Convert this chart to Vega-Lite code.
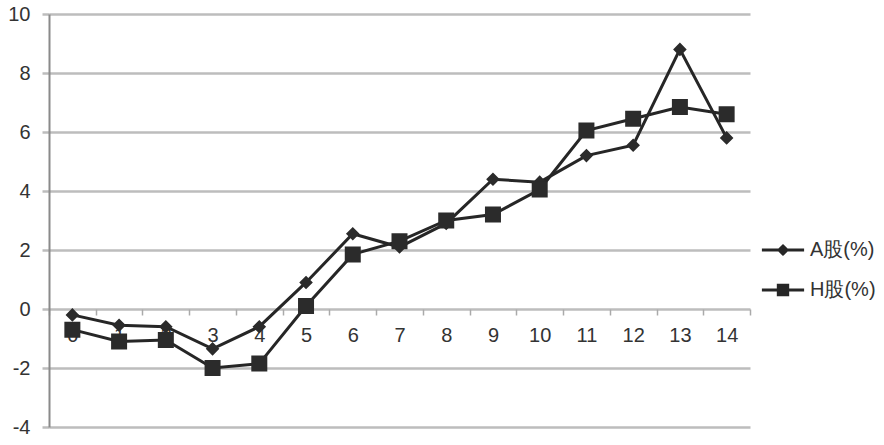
{
  "$schema": "https://vega.github.io/schema/vega-lite/v6.json",
  "width": 701,
  "height": 413,
  "autosize": {"type": "none"},
  "padding": {"left": 49, "top": 14, "right": 134, "bottom": 18},
  "background": "white",
  "config": {"view": {"stroke": null}, "font": "Liberation Sans"},
  "data": {
    "values": [
      {"x": 0, "series": "A股(%)", "value": -0.2},
      {"x": 1, "series": "A股(%)", "value": -0.55},
      {"x": 2, "series": "A股(%)", "value": -0.6},
      {"x": 3, "series": "A股(%)", "value": -1.35},
      {"x": 4, "series": "A股(%)", "value": -0.6},
      {"x": 5, "series": "A股(%)", "value": 0.9},
      {"x": 6, "series": "A股(%)", "value": 2.55},
      {"x": 7, "series": "A股(%)", "value": 2.1},
      {"x": 8, "series": "A股(%)", "value": 2.9},
      {"x": 9, "series": "A股(%)", "value": 4.4},
      {"x": 10, "series": "A股(%)", "value": 4.3},
      {"x": 11, "series": "A股(%)", "value": 5.2},
      {"x": 12, "series": "A股(%)", "value": 5.55},
      {"x": 13, "series": "A股(%)", "value": 8.8},
      {"x": 14, "series": "A股(%)", "value": 5.8},
      {"x": 0, "series": "H股(%)", "value": -0.7},
      {"x": 1, "series": "H股(%)", "value": -1.1},
      {"x": 2, "series": "H股(%)", "value": -1.05},
      {"x": 3, "series": "H股(%)", "value": -2.0},
      {"x": 4, "series": "H股(%)", "value": -1.85},
      {"x": 5, "series": "H股(%)", "value": 0.1},
      {"x": 6, "series": "H股(%)", "value": 1.85},
      {"x": 7, "series": "H股(%)", "value": 2.3},
      {"x": 8, "series": "H股(%)", "value": 3.0},
      {"x": 9, "series": "H股(%)", "value": 3.2},
      {"x": 10, "series": "H股(%)", "value": 4.05},
      {"x": 11, "series": "H股(%)", "value": 6.05},
      {"x": 12, "series": "H股(%)", "value": 6.45},
      {"x": 13, "series": "H股(%)", "value": 6.85},
      {"x": 14, "series": "H股(%)", "value": 6.6}
    ]
  },
  "encoding": {
    "x": {
      "field": "x",
      "type": "ordinal",
      "scale": {"type": "band", "paddingInner": 0, "paddingOuter": 0},
      "axis": {
        "title": null,
        "orient": "bottom",
        "offset": -118,
        "tickBand": "extent",
        "ticks": true,
        "tickSize": 6,
        "tickWidth": 1.5,
        "tickColor": "#aaaaaa",
        "domain": false,
        "grid": false,
        "labelAngle": 0,
        "labelFontSize": 20,
        "labelColor": "#333333",
        "labelPadding": 10
      }
    },
    "y": {
      "field": "value",
      "type": "quantitative",
      "scale": {"domain": [-4, 10], "nice": false, "zero": false},
      "axis": {
        "title": null,
        "values": [-4, -2, 0, 2, 4, 6, 8, 10],
        "labelExpr": "datum.value < 0 ? '-' + abs(datum.value) : '' + datum.value",
        "grid": true,
        "gridColor": "#bdbdbd",
        "gridWidth": 2.5,
        "tickColor": "#bdbdbd",
        "tickSize": 7,
        "tickWidth": 2.5,
        "domainColor": "#8a8a8a",
        "domainWidth": 2,
        "labelFontSize": 20,
        "labelColor": "#333333",
        "labelPadding": 12
      }
    }
  },
  "layer": [
    {
      "mark": {"type": "line", "strokeWidth": 3, "color": "#262626"},
      "encoding": {"detail": {"field": "series"}}
    },
    {
      "mark": {"type": "point", "filled": true, "opacity": 1, "color": "#2b2b2b", "size": 256},
      "encoding": {
        "shape": {
          "field": "series",
          "type": "nominal",
          "scale": {
            "domain": ["A股(%)", "H股(%)"],
            "range": [
              "M-4.5,0H4.5M0,-0.85L0.85,0L0,0.85L-0.85,0Z",
              "M-4.5,0H4.5M-1,-1H1V1H-1Z"
            ]
          },
          "legend": {
            "title": null,
            "orient": "none",
            "legendX": 724,
            "legendY": 226,
            "symbolSize": 88,
            "labelFontSize": 20,
            "labelColor": "#333333",
            "labelOffset": 17,
            "rowPadding": 19,
            "encoding": {
              "symbols": {
                "stroke": {"value": "#262626"},
                "strokeWidth": {"value": 3},
                "fill": {"value": "#262626"}
              }
            }
          }
        }
      }
    }
  ]
}
